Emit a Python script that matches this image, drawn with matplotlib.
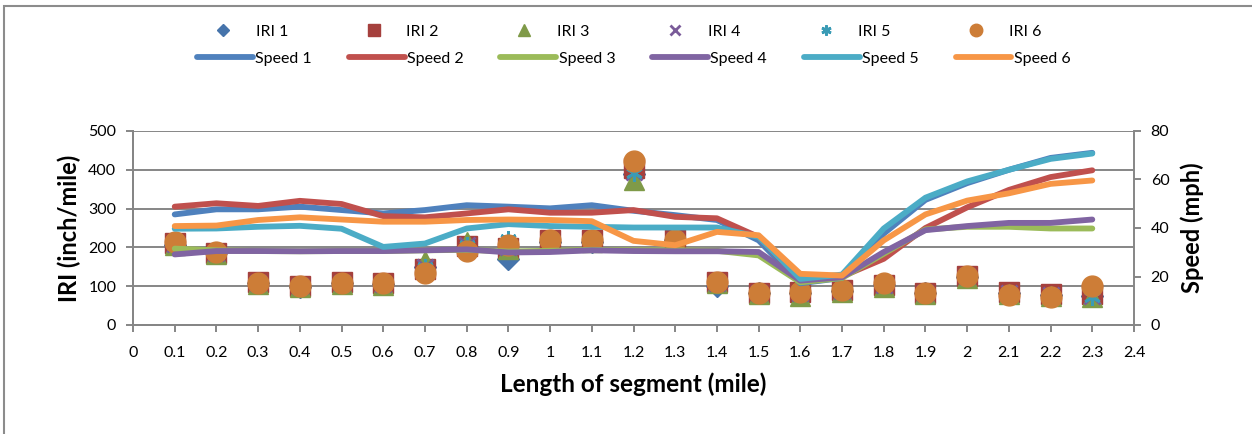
import matplotlib.pyplot as plt
from matplotlib.patches import Rectangle

plt.rcParams['font.family'] = ['Lato', 'DejaVu Sans']

# segment positions (mile) and x tick labels
xtick_labels = ['0', '0.1', '0.2', '0.3', '0.4', '0.5', '0.6', '0.7', '0.8', '0.9', '1',
                '1.1', '1.2', '1.3', '1.4', '1.5', '1.6', '1.7', '1.8', '1.9', '2',
                '2.1', '2.2', '2.3', '2.4']
segment = [0.1, 0.2, 0.3, 0.4, 0.5, 0.6, 0.7, 0.8, 0.9, 1.0, 1.1, 1.2,
           1.3, 1.4, 1.5, 1.6, 1.7, 1.8, 1.9, 2.0, 2.1, 2.2, 2.3]

# IRI per run (inch/mile)
iri1 = [205, 185, 108, 98, 108, 105, 150, 200, 170, 215, 215, 390,
        220, 100, 82, 82, 88, 102, 82, 125, 82, 78, 76]
iri2 = [212, 186, 111, 100, 111, 107, 145, 203, 198, 218, 218, 405,
        223, 111, 83, 84, 90, 104, 82, 127, 84, 79, 79]
iri3 = [205, 183, 105, 98, 106, 104, 165, 214, 195, 215, 215, 374,
        218, 108, 80, 75, 86, 97, 80, 122, 80, 76, 71]
iri4 = [208, 186, 108, 100, 109, 106, 150, 205, 200, 217, 217, 395,
        220, 108, 82, 82, 88, 104, 82, 126, 82, 77, 75]
iri5 = [208, 186, 108, 100, 109, 106, 149, 205, 221, 217, 217, 392,
        220, 108, 82, 82, 88, 104, 82, 126, 82, 77, 72]
iri6 = [214, 188, 108, 101, 108, 107, 133, 192, 205, 218, 218, 422,
        218, 110, 82, 86, 91, 107, 82, 127, 78, 71, 100]

# speed per run (mph)
speed1 = [45.6, 47.7, 47.7, 48.8, 47.4, 46.0, 47.4, 49.4, 48.8, 48.1, 49.4, 47.1,
          45.3, 43.3, 34.9, 17.2, 19.4, 37.7, 51.6, 58.5, 64.0, 68.9, 71.0]
speed2 = [48.8, 50.2, 49.1, 51.2, 49.9, 44.9, 44.4, 46.0, 47.7, 46.3, 46.3, 47.4,
          44.6, 44.0, 36.3, 18.6, 20.0, 27.3, 40.0, 48.5, 55.7, 61.0, 63.8]
speed3 = [31.5, 30.8, 30.5, 30.4, 30.5, 30.5, 30.8, 31.0, 30.3, 30.6, 31.0, 30.8,
          30.8, 30.6, 28.7, 17.6, 19.4, 29.4, 39.4, 40.5, 40.5, 39.8, 39.8]
speed4 = [29.1, 30.5, 30.5, 30.4, 30.5, 30.5, 30.8, 31.2, 29.9, 30.1, 30.8, 30.5,
          30.4, 30.4, 30.1, 18.3, 19.7, 30.1, 39.1, 40.8, 42.1, 42.1, 43.5]
speed5 = [39.7, 39.8, 40.5, 40.9, 39.7, 32.2, 33.6, 39.8, 41.6, 40.8, 40.5, 40.2,
          40.2, 40.2, 36.3, 19.0, 20.8, 39.8, 52.5, 59.2, 64.0, 68.5, 70.7]
speed6 = [40.8, 41.0, 43.3, 44.4, 43.5, 42.6, 42.6, 43.3, 43.5, 43.3, 42.8, 34.7,
          32.9, 38.4, 37.0, 21.1, 20.4, 34.9, 45.6, 51.3, 54.3, 58.2, 59.6]

iri_runs = [iri1, iri2, iri3, iri4, iri5, iri6]
speed_runs = [speed1, speed2, speed3, speed4, speed5, speed6]

marker_styles = [('D', '#4674AB', 11), ('s', '#A5403D', 14), ('^', '#7F9A48', 14),
                 ('x', '#7A5B99', 11), ((6, 2, 0), '#3A9BB5', 12), ('o', '#CD7D37', 15)]
line_colors = ['#4F81BD', '#C0504D', '#9BBB59', '#8064A2', '#4BACC6', '#F79646']
grid_gray = '#868686'

fig = plt.figure(figsize=(12.52, 4.34), dpi=100)
ax = fig.add_axes([133 / 1252, 109 / 434, 1001 / 1252, 194 / 434])
ax2 = ax.twinx()

iri_handles = []
for i, vals in enumerate(iri_runs):
    m, c, ms = marker_styles[i]
    mew = 2 if m in ('x', (6, 2, 0)) else 1
    h, = ax.plot(segment, vals, linestyle='none', marker=m, color=c,
                 markersize=ms, markeredgewidth=mew, label=f'IRI {i + 1}')
    iri_handles.append(h)

speed_handles = []
for i, vals in enumerate(speed_runs):
    h, = ax2.plot(segment, vals, color=line_colors[i], linewidth=4.2,
                  solid_capstyle='round', solid_joinstyle='round', label=f'Speed {i + 1}')
    speed_handles.append(h)

ax.set_xlim(0, 2.4)
ax.set_ylim(0, 500)
ax2.set_ylim(0, 80)
ax.set_xticks([float(s) for s in xtick_labels])
ax.set_xticklabels(xtick_labels)
ax.set_yticks([0, 100, 200, 300, 400, 500])
ax2.set_yticks([0, 20, 40, 60, 80])

ax.grid(axis='y', color=grid_gray, linewidth=1.4)
ax.set_axisbelow(True)
for a in (ax, ax2):
    for side in a.spines:
        a.spines[side].set_color(grid_gray)
        a.spines[side].set_linewidth(1.4)
    a.spines['top'].set_visible(False)
    a.tick_params(direction='out', length=5, width=1.4, color=grid_gray,
                  labelsize=11.5, pad=7)
ax.tick_params(axis='x', pad=10)
ax.spines['right'].set_visible(False)

ax.set_xlabel('Length of segment (mile)', fontsize=17.5, fontweight='bold', labelpad=9)
ax.set_ylabel('IRI (inch/mile)', fontsize=17, fontweight='bold', labelpad=5)
ax2.set_ylabel('Speed (mph)', fontsize=17, fontweight='bold', labelpad=8)

fig.legend(handles=iri_handles, loc='center left', bbox_to_anchor=(215 / 1252, 1 - 32 / 434),
           ncol=6, frameon=False, fontsize=11.5, handlelength=1.0, handletextpad=1.55,
           columnspacing=4.85, borderpad=0, borderaxespad=0, markerscale=0.6)
fig.legend(handles=speed_handles, loc='center left', bbox_to_anchor=(197 / 1252, 1 - 59 / 434),
           ncol=6, frameon=False, fontsize=11.5, handlelength=3.5, handletextpad=0.15,
           columnspacing=2.3, borderpad=0, borderaxespad=0)

# chart frame
fig.patches.append(Rectangle((4 / 1252, -0.1), 1.1, 1.1 - 6 / 434, transform=fig.transFigure,
                             fill=False, edgecolor='#8C8C8C', linewidth=1.5))

fig.savefig('out.png', dpi=100)
